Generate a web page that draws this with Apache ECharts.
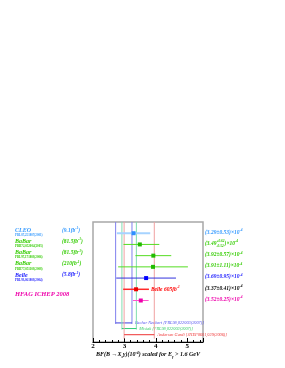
<!DOCTYPE html>
<html><head><meta charset="utf-8">
<script src="https://cdn.jsdelivr.net/npm/echarts@6/dist/echarts.min.js"></script>
<style>html,body{margin:0;padding:0;background:#fff}#c{width:285px;height:368px}</style>
</head><body><div id="c"></div>
<script>
// ---- data ----
const expNames = ['CLEO', 'BaBar', 'BaBar', 'BaBar', 'Belle'];
const expRefs = ['PRL87,251807(2001)', 'PRD72,052004(2005)', 'PRL97,171803(2006)', 'PRD77,051103(2008)', 'PRL93,061803(2004)'];
const expLumis = ['9.1', '81.5', '81.5', '210', '5.8'];
const belleLargeLumi = '605';
const avgLabel = 'HFAG ICHEP 2008';
const centers = [3.29, 3.49, 3.92, 3.91, 3.69, 3.37, 3.52];
const errPlus = [0.53, 0.62, 0.57, 1.11, 0.95, 0.41, 0.25];
const errMinus = [0.53, 0.52, 0.57, 1.11, 0.95, 0.41, 0.25];
const theoryNames = ['Becher Neubert', 'Misiak', 'Andersen Gardi'];
const theoryRefs = ['[PRL98,022003(2007)]', '[PRL98,022002(2007)]', '[JHEP0601,029(2006)]'];
const theoryCenters = [2.98, 3.15, 3.47];
const theoryErrs = [0.26, 0.23, 0.48];
const xTicks = [2, 3, 4, 5];

// ---- styles / layout ----
const SERIF = '"Liberation Serif","DejaVu Serif",serif';
const mStyles = [
  {txt: '#3399ff', bar: '#a6d3ff', bw: 2, mk: '#2f8fff'},
  {txt: '#33cc00', bar: '#55dd22', bw: 1, mk: '#22bb00'},
  {txt: '#33cc00', bar: '#55dd22', bw: 1, mk: '#22bb00'},
  {txt: '#33cc00', bar: '#55dd22', bw: 1, mk: '#22bb00'},
  {txt: '#2222ff', bar: '#3333dd', bw: 1, mk: '#0000ff'},
  {txt: '#000000', bar: '#ff2a2a', bw: 1.5, mk: '#ee0000', lab: '#ff0000'},
  {txt: '#ee00aa', bar: '#ff55cc', bw: 1, mk: '#ee00aa'}
];
const tStyles = [
  {line: '#8080ee', bar: '#3f3fdd', txt: '#5050ee'},
  {line: '#80ddb0', bar: '#33cc77', txt: '#33cc66'},
  {line: '#f0a0a0', bar: '#ee3333', txt: '#ee3333'}
];
const theoryRows = [8.0, 8.5, 9.05];
const Y_MIN = -1, Y_MAX = 9.7;

const mctx = document.createElement('canvas').getContext('2d');
function tw(t, font) { mctx.font = font; return mctx.measureText(t).width; }

function valueText(x, y, c, ep, em, color) {
  const fMain = 'italic bold 5.5px ' + SERIF;
  const fSmall = 'italic bold 3.5px ' + SERIF;
  const out = [];
  let cx = x;
  const push = (t, f, dy) => {
    out.push({type: 'text', style: {text: t, x: cx, y: y + dy, font: f, fill: color, align: 'left', verticalAlign: 'middle'}});
  };
  if (Math.abs(ep - em) < 1e-9) {
    const t1 = '(' + c.toFixed(2) + '±' + ep.toFixed(2) + ')×10';
    push(t1, fMain, 0); cx += tw(t1, fMain);
    push('-4', fSmall, -2);
  } else {
    const t1 = '(' + c.toFixed(2);
    push(t1, fMain, 0); cx += tw(t1, fMain);
    const s1 = '+' + ep.toFixed(2), s2 = '-' + em.toFixed(2);
    push(s1, fSmall, -2.2);
    push(s2, fSmall, 2.6);
    cx += Math.max(tw(s1, fSmall), tw(s2, fSmall));
    const t2 = ')×10';
    push(t2, fMain, 0); cx += tw(t2, fMain);
    push('-4', fSmall, -2);
  }
  return out;
}

function lumiText(x, y, l, color) {
  const f = 'italic bold 5.5px ' + SERIF, fs = 'italic bold 3.5px ' + SERIF;
  const a = '(' + l + 'fb';
  const out = [{type: 'text', style: {text: a, x: x, y: y, font: f, fill: color, verticalAlign: 'middle'}}];
  let cx = x + tw(a, f);
  out.push({type: 'text', style: {text: '-1', x: cx, y: y - 2, font: fs, fill: color, verticalAlign: 'middle'}});
  cx += tw('-1', fs);
  out.push({type: 'text', style: {text: ')', x: cx, y: y, font: f, fill: color, verticalAlign: 'middle'}});
  return out;
}

function renderMeas(params, api) {
  const i = params.dataIndex;
  const row = api.value(3);
  const pc = api.coord([api.value(0), row]);
  const pl = api.coord([api.value(1), row]);
  const ph = api.coord([api.value(2), row]);
  const st = mStyles[i];
  const ch = [
    {type: 'line', shape: {x1: pl[0], y1: pl[1], x2: ph[0], y2: ph[1]}, style: {stroke: st.bar, lineWidth: st.bw}},
    {type: 'rect', shape: {x: pc[0] - 2, y: pc[1] - 2, width: 4, height: 4}, style: {fill: st.mk}}
  ];
  const y = pc[1];
  if (i < expNames.length) {
    ch.push({type: 'text', style: {text: expNames[i], x: 15, y: y - 3, font: 'italic bold 6px ' + SERIF, fill: st.txt, verticalAlign: 'middle'}});
    ch.push({type: 'text', style: {text: expRefs[i], x: 15, y: y + 2, font: 'bold 3.1px ' + SERIF, fill: st.txt, verticalAlign: 'middle'}});
    lumiText(62, y - 3, expLumis[i], st.txt).forEach(e => ch.push(e));
  } else if (i === expNames.length) {
    const f = 'italic bold 5.5px ' + SERIF, fs = 'italic bold 3.5px ' + SERIF;
    const a = 'Belle ' + belleLargeLumi + 'fb';
    const x0 = ph[0] + 2;
    ch.push({type: 'text', style: {text: a, x: x0, y: y, font: f, fill: st.lab, verticalAlign: 'middle'}});
    ch.push({type: 'text', style: {text: '-1', x: x0 + tw(a, f), y: y - 2, font: fs, fill: st.lab, verticalAlign: 'middle'}});
  } else {
    ch.push({type: 'text', style: {text: avgLabel, x: 15, y: y - 6, font: 'italic bold 6.5px ' + SERIF, fill: st.txt, verticalAlign: 'middle'}});
  }
  valueText(205, y - 1, centers[i], errPlus[i], errMinus[i], st.txt).forEach(e => ch.push(e));
  return {type: 'group', children: ch};
}

function renderTheory(params, api) {
  const i = params.dataIndex;
  const row = api.value(2);
  const st = tStyles[i];
  const lTop = api.coord([api.value(0), Y_MIN]);
  const lBot = api.coord([api.value(0), row]);
  const hTop = api.coord([api.value(1), Y_MIN]);
  const hBot = api.coord([api.value(1), row]);
  const ext = i === 2 ? 4 : 1;
  const ch = [
    {type: 'line', shape: {x1: lTop[0], y1: lTop[1], x2: lBot[0], y2: lBot[1] + ext}, style: {stroke: st.line, lineWidth: 1}},
    {type: 'line', shape: {x1: hTop[0], y1: hTop[1], x2: hBot[0], y2: hBot[1] + ext}, style: {stroke: st.line, lineWidth: 1}},
    {type: 'line', shape: {x1: lBot[0], y1: lBot[1], x2: hBot[0], y2: hBot[1]}, style: {stroke: st.bar, lineWidth: 1}},
    {type: 'text', style: {text: theoryNames[i] + ' ' + theoryRefs[i], x: hBot[0] + 3, y: hBot[1], font: 'italic 4.3px ' + SERIF, fill: st.txt, verticalAlign: 'middle'}}
  ];
  return {type: 'group', children: ch};
}

const measData = centers.map((c, i) => [c, c - errMinus[i], c + errPlus[i], i]);
const theoryData = theoryCenters.map((c, i) => [c - theoryErrs[i], c + theoryErrs[i], theoryRows[i]]);

const chart = echarts.init(document.getElementById('c'), null, {renderer: 'canvas'});
chart.setOption({
  animation: false,
  backgroundColor: '#fff',
  grid: {left: 93, right: 82, top: 222, bottom: 26, show: true, borderColor: '#a8a8a8', borderWidth: 1.5, backgroundColor: 'transparent'},
  xAxis: {
    type: 'value', min: 2, max: 5.5, interval: 1,
    axisLine: {show: true, onZero: false, lineStyle: {color: '#000', width: 1}},
    axisTick: {show: true, inside: true, length: 4, lineStyle: {color: '#000'}},
    minorTick: {show: true, splitNumber: 5, length: 2, lineStyle: {color: '#000'}},
    splitLine: {show: false},
    axisLabel: {
      margin: 1, color: '#000', fontFamily: SERIF, fontWeight: 'bold', fontSize: 7,
      formatter: v => xTicks.indexOf(v) >= 0 ? String(v) : ''
    },
    name: '{t|BF(B →X}{s|s}{t|γ)(10}{p|-4}{t|) scaled for E}{s|γ}{t| > 1.6 GeV}',
    nameLocation: 'middle', nameGap: 7,
    nameTextStyle: {
      rich: {
        t: {fontFamily: SERIF, fontWeight: 'bold', fontStyle: 'italic', fontSize: 6, color: '#000', lineHeight: 8},
        s: {fontFamily: SERIF, fontWeight: 'bold', fontStyle: 'italic', fontSize: 3.8, color: '#000', lineHeight: 8, verticalAlign: 'bottom'},
        p: {fontFamily: SERIF, fontWeight: 'bold', fontStyle: 'italic', fontSize: 3.8, color: '#000', lineHeight: 8, verticalAlign: 'top'}
      }
    }
  },
  yAxis: {type: 'value', min: Y_MIN, max: Y_MAX, inverse: true, show: false},
  series: [
    {type: 'custom', renderItem: renderTheory, data: theoryData, z: 1, clip: false},
    {type: 'custom', renderItem: renderMeas, data: measData, z: 3, clip: false}
  ]
});
</script>
</body></html>
